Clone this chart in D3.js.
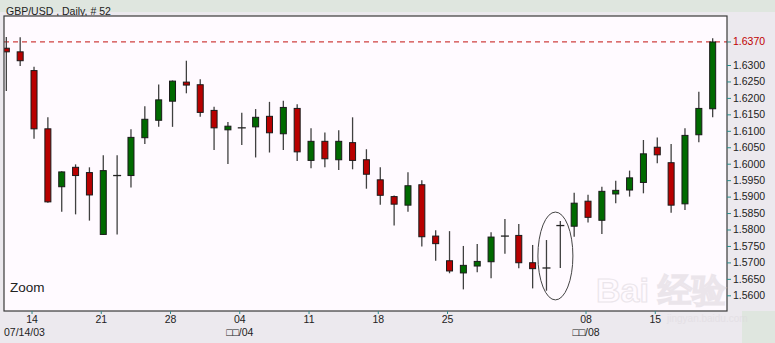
<!DOCTYPE html>
<html>
<head>
<meta charset="utf-8">
<script src="https://cdn.jsdelivr.net/npm/d3@7"></script>
<style>
body { margin: 0; background: #ece9ee; }
svg { display: block; font-family: "Liberation Sans", Arial, sans-serif; }
</style>
</head>
<body>
<div id="chart"></div>
<script>
var days = ["07/10", "07/11",
    "07/14", "07/15", "07/16", "07/17", "07/18",
    "07/21", "07/22", "07/23", "07/24", "07/25",
    "07/28", "07/29", "07/30", "07/31", "08/01",
    "08/04", "08/05", "08/06", "08/07", "08/08",
    "08/11", "08/12", "08/13", "08/14", "08/15",
    "08/18", "08/19", "08/20", "08/21", "08/22",
    "08/25", "08/26", "08/27", "08/28", "08/29",
    "09/01", "09/02", "09/03", "09/04", "09/05",
    "09/08", "09/09", "09/10", "09/11", "09/12",
    "09/15", "09/16", "09/17", "09/18", "09/19"];
var opens = [1.6351, 1.6340,
    1.6283, 1.6106, 1.5930, 1.5989, 1.5973,
    1.5785, 1.5964, 1.5964, 1.6079, 1.6132,
    1.6190, 1.6248, 1.6240, 1.6162, 1.6103,
    1.6109, 1.6112, 1.6144, 1.6091, 1.6168,
    1.6010, 1.6068, 1.6012, 1.6064, 1.6012,
    1.5951, 1.5900, 1.5874, 1.5936, 1.5780,
    1.5705, 1.5668, 1.5689, 1.5702, 1.5780,
    1.5782, 1.5699, 1.5683, 1.5812, 1.5810,
    1.5886, 1.5828, 1.5908, 1.5920, 1.5943,
    1.6050, 1.6003, 1.5878, 1.6088, 1.6167];
var highs = [1.6385, 1.6384,
    1.6295, 1.6141, 1.5977, 1.5998, 1.5989,
    1.6026, 1.6026, 1.6105, 1.6175, 1.6241,
    1.6253, 1.6313, 1.6257, 1.6173, 1.6127,
    1.6155, 1.6166, 1.6188, 1.6191, 1.6181,
    1.6108, 1.6095, 1.6102, 1.6141, 1.6044,
    1.5989, 1.5903, 1.5974, 1.5950, 1.5798,
    1.5795, 1.5750, 1.5756, 1.5792, 1.5832,
    1.5817, 1.5753, 1.5768, 1.5826, 1.5912,
    1.5906, 1.5930, 1.5948, 1.5979, 1.6072,
    1.6080, 1.6060, 1.6108, 1.6219, 1.6381];
var lows = [1.6221, 1.6297,
    1.6076, 1.5881, 1.5854, 1.5846, 1.5827,
    1.5783, 1.5785, 1.5928, 1.6060, 1.6112,
    1.6112, 1.6214, 1.6143, 1.6042, 1.5999,
    1.6057, 1.6019, 1.6034, 1.6042, 1.6008,
    1.5986, 1.5989, 1.5981, 1.5983, 1.5924,
    1.5875, 1.5812, 1.5854, 1.5748, 1.5705,
    1.5667, 1.5618, 1.5670, 1.5652, 1.5726,
    1.5682, 1.5621, 1.5614, 1.5683, 1.5778,
    1.5821, 1.5786, 1.5880, 1.5900, 1.5910,
    1.6001, 1.5851, 1.5859, 1.6065, 1.6141];
var closes = [1.6340, 1.6313,
    1.6106, 1.5884, 1.5975, 1.5964, 1.5905,
    1.5979, 1.5964, 1.6080, 1.6135, 1.6194,
    1.6251, 1.6239, 1.6156, 1.6109, 1.6114,
    1.6109, 1.6141, 1.6094, 1.6171, 1.6036,
    1.6068, 1.6015, 1.6068, 1.6010, 1.5968,
    1.5904, 1.5877, 1.5933, 1.5778, 1.5757,
    1.5674, 1.5691, 1.5703, 1.5777, 1.5780,
    1.5699, 1.5681, 1.5683, 1.5812, 1.5880,
    1.5837, 1.5916, 1.5919, 1.5957, 1.6030,
    1.6027, 1.5874, 1.6086, 1.6168, 1.6370];

var tickDays = ["07/14", "07/21", "07/28", "08/04", "08/11", "08/18", "08/25", "09/08", "09/15"];
var tickLabels = ["14", "21", "28", "04", "11", "18", "25", "08", "15"];
var subDays = ["07/14", "08/04", "09/08"];
var subLabels = ["07/14/03", "\u25A1\u25A1/04", "\u25A1\u25A1/08"];
var priceTicks = [1.5600, 1.5650, 1.5700, 1.5750, 1.5800, 1.5850, 1.5900, 1.5950,
    1.6000, 1.6050, 1.6100, 1.6150, 1.6200, 1.6250, 1.6300];
var lastPrice = 1.6370;
var title = "GBP/USD , Daily, # 52";
// circled area: two days and a price range
var zoomDays = ["09/03", "09/04"];
var zoomRange = [1.5853, 1.5586];

var outerWidth = 775, outerHeight = 343;
var margin = {top: 16, right: 48, bottom: 32, left: 4};
var width = outerWidth - margin.left - margin.right;
var height = outerHeight - margin.top - margin.bottom;

var candles = days.map((d, i) => ({day: d, o: opens[i], h: highs[i], l: lows[i], c: closes[i]}));

var root = d3.select("#chart")
    .append("svg")
    .attr("width", outerWidth)
    .attr("height", outerHeight);

root.append("rect")
    .attr("width", outerWidth).attr("height", outerHeight)
    .attr("fill", "#ece9ee");
root.append("rect")
    .attr("width", outerWidth).attr("height", 12)
    .attr("fill", "#dfe6df");
root.append("rect")
    .attr("x", 742).attr("y", 311)
    .attr("width", 33).attr("height", 32)
    .attr("fill", "#dfe6df");

root.append("text")
    .attr("x", 6).attr("y", 15)
    .attr("font-size", 10.5)
    .attr("fill", "#222")
    .text(title);

var svg = root.append("g")
    .attr("transform", "translate(" + margin.left + "," + margin.top + ")");

svg.append("rect")
    .attr("width", width).attr("height", height)
    .attr("fill", "#fffaff");

svg.append("clipPath").attr("id", "plotclip")
    .append("rect").attr("width", width).attr("height", height);

var xScale = d3.scaleBand()
    .domain(days)
    .range([-4.6, 715.6]);
var bw = xScale.bandwidth();
var cx = d => xScale(d) + bw / 2;

var yScale = d3.scaleLinear()
    .domain([1.5600, 1.6300])
    .range([279.3, 49]);

var plot = svg.append("g").attr("clip-path", "url(#plotclip)");

// last price line
plot.append("line")
    .attr("x1", 0).attr("x2", width)
    .attr("y1", yScale(lastPrice)).attr("y2", yScale(lastPrice))
    .attr("stroke", "#d04040")
    .attr("stroke-width", 1.2)
    .attr("stroke-dasharray", "5,4");

// wicks
plot.selectAll(".wick")
    .data(candles)
    .enter().append("line")
    .attr("class", "wick")
    .attr("x1", d => cx(d.day)).attr("x2", d => cx(d.day))
    .attr("y1", d => yScale(d.h)).attr("y2", d => yScale(d.l))
    .attr("stroke", "#404040")
    .attr("stroke-width", 1.3);

// bodies
plot.selectAll(".body")
    .data(candles.filter(d => d.o != d.c))
    .enter().append("rect")
    .attr("class", "body")
    .attr("x", d => cx(d.day) - 3)
    .attr("y", d => yScale(Math.max(d.o, d.c)))
    .attr("width", 6)
    .attr("height", d => Math.max(1, yScale(Math.min(d.o, d.c)) - yScale(Math.max(d.o, d.c))))
    .attr("fill", d => d.c > d.o ? "#006a00" : "#b80000")
    .attr("stroke", "#1a1a1a")
    .attr("stroke-width", 1);

// doji
plot.selectAll(".doji")
    .data(candles.filter(d => d.o == d.c))
    .enter().append("line")
    .attr("class", "doji")
    .attr("x1", d => cx(d.day) - 4).attr("x2", d => cx(d.day) + 4)
    .attr("y1", d => yScale(d.o)).attr("y2", d => yScale(d.o))
    .attr("stroke", "#222")
    .attr("stroke-width", 1.3);

// circled area
var zx0 = cx(zoomDays[0]), zx1 = cx(zoomDays[1]);
plot.append("ellipse")
    .attr("cx", (zx0 + zx1) / 2 + 2)
    .attr("cy", (yScale(zoomRange[0]) + yScale(zoomRange[1])) / 2)
    .attr("rx", 17.5)
    .attr("ry", (yScale(zoomRange[1]) - yScale(zoomRange[0])) / 2)
    .attr("fill", "none")
    .attr("stroke", "#444")
    .attr("stroke-width", 1);

plot.append("text")
    .attr("x", 6).attr("y", height - 19)
    .attr("font-size", 13.5)
    .attr("fill", "#222")
    .text("Zoom");

// watermark
var wm = root.append("g").attr("opacity", 0.5);
wm.append("text")
    .attr("x", 596).attr("y", 302)
    .attr("font-size", 34).attr("font-weight", "bold")
    .attr("fill", "none").attr("stroke", "#d8d2d8").attr("stroke-width", 1.2)
    .text("Bai  \u7ECF\u9A8C");
wm.append("text")
    .attr("x", 667).attr("y", 322)
    .attr("font-size", 10)
    .attr("fill", "#ddd8dd")
    .text("jingyan.baidu.com");

// frame
svg.append("rect")
    .attr("width", width).attr("height", height)
    .attr("fill", "none")
    .attr("stroke", "#3a3a3a")
    .attr("stroke-width", 1.2);

// right axis
var yAxis = svg.append("g")
    .attr("transform", "translate(" + width + ",0)")
    .call(d3.axisRight(yScale)
        .tickValues(priceTicks)
        .tickSize(4)
        .tickFormat(d3.format(".4f")));
yAxis.select(".domain").remove();
yAxis.selectAll(".tick line").attr("stroke", "#2a8a8a");
yAxis.selectAll(".tick text")
    .attr("x", 6)
    .attr("font-size", 10.5)
    .attr("font-family", "Liberation Sans, Arial, sans-serif")
    .attr("fill", "#222");

var lastTick = svg.append("g")
    .attr("transform", "translate(" + width + "," + yScale(lastPrice) + ")");
lastTick.append("line")
    .attr("x2", 4).attr("stroke", "#2a8a8a");
lastTick.append("text")
    .attr("x", 6).attr("dy", "0.32em")
    .attr("font-size", 10.5)
    .attr("fill", "#c00000")
    .text(d3.format(".4f")(lastPrice));

// bottom axis
var xAxis = svg.append("g")
    .attr("transform", "translate(0," + height + ")")
    .call(d3.axisBottom(xScale)
        .tickValues(tickDays)
        .tickSize(3)
        .tickFormat((d, i) => tickLabels[i]));
xAxis.select(".domain").remove();
xAxis.selectAll(".tick").attr("transform", d => "translate(" + (cx(d) - 2) + ",0)");
xAxis.selectAll(".tick line").attr("stroke", "#2a8a8a");
xAxis.selectAll(".tick text")
    .attr("y", 5)
    .attr("font-size", 10.5)
    .attr("font-family", "Liberation Sans, Arial, sans-serif")
    .attr("fill", "#222");

svg.selectAll(".sublabel")
    .data(subDays)
    .enter().append("text")
    .attr("class", "sublabel")
    .attr("x", (d, i) => i == 0 ? 0 : cx(d) - 2)
    .attr("y", height + 25)
    .attr("text-anchor", (d, i) => i == 0 ? "start" : "middle")
    .attr("font-size", 10.5)
    .attr("fill", "#222")
    .text((d, i) => subLabels[i]);
</script>
</body>
</html>
